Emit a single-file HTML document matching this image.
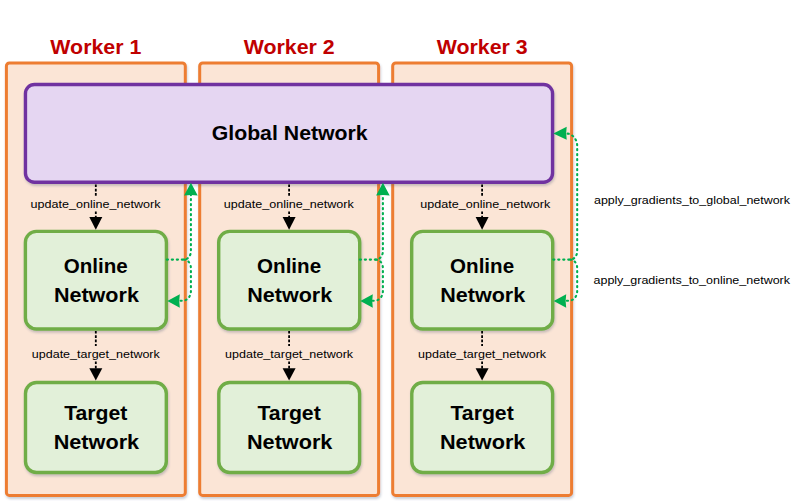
<!DOCTYPE html>
<html><head><meta charset="utf-8"><title>Workers</title>
<style>
html,body{margin:0;padding:0;background:#fff;width:797px;height:503px;overflow:hidden;}
svg{display:block;}
</style></head><body>
<svg width="797" height="503" viewBox="0 0 797 503">
<defs><filter id="sh" x="-5%" y="-5%" width="115%" height="115%"><feDropShadow dx="0.8" dy="2" stdDeviation="1.2" flood-color="#3a4a6a" flood-opacity="0.27"/></filter></defs>
<rect width="797" height="503" fill="#fff"/>
<rect x="6.4" y="62.9" width="178.9" height="432.5" rx="3" fill="#FBE5D6" stroke="#ED7D31" stroke-width="3" filter="url(#sh)"/>
<rect x="199.7" y="62.9" width="178.9" height="432.5" rx="3" fill="#FBE5D6" stroke="#ED7D31" stroke-width="3" filter="url(#sh)"/>
<rect x="392.7" y="62.9" width="178.9" height="432.5" rx="3" fill="#FBE5D6" stroke="#ED7D31" stroke-width="3" filter="url(#sh)"/>
<text x="95.85000000000001" y="54" text-anchor="middle" font-family='"Liberation Sans", sans-serif' font-weight="bold" font-size="21" fill="#C00000" textLength="91" lengthAdjust="spacingAndGlyphs">Worker 1</text>
<text x="289.15" y="54" text-anchor="middle" font-family='"Liberation Sans", sans-serif' font-weight="bold" font-size="21" fill="#C00000" textLength="91" lengthAdjust="spacingAndGlyphs">Worker 2</text>
<text x="482.15" y="54" text-anchor="middle" font-family='"Liberation Sans", sans-serif' font-weight="bold" font-size="21" fill="#C00000" textLength="91" lengthAdjust="spacingAndGlyphs">Worker 3</text>
<rect x="25.45" y="84.5" width="527.1" height="97.8" rx="9" fill="#E5D6F2" stroke="#7030A0" stroke-width="3.4" filter="url(#sh)"/>
<text x="289.7" y="139.8" text-anchor="middle" font-family='"Liberation Sans", sans-serif' font-weight="bold" font-size="20.5" fill="#000" textLength="156" lengthAdjust="spacingAndGlyphs">Global Network</text>
<rect x="25.4" y="231.4" width="141.0" height="97.6" rx="11" fill="#E2F0D9" stroke="#70AD47" stroke-width="3.4" filter="url(#sh)"/>
<text x="95.8" y="272.9" text-anchor="middle" font-family='"Liberation Sans", sans-serif' font-weight="bold" font-size="20.5" fill="#000" textLength="64" lengthAdjust="spacingAndGlyphs">Online</text>
<text x="96.39999999999999" y="301.8" text-anchor="middle" font-family='"Liberation Sans", sans-serif' font-weight="bold" font-size="20.5" fill="#000" textLength="85" lengthAdjust="spacingAndGlyphs">Network</text>
<rect x="25.5" y="382.5" width="140.8" height="90.0" rx="11" fill="#E2F0D9" stroke="#70AD47" stroke-width="3.4" filter="url(#sh)"/>
<text x="95.8" y="420" text-anchor="middle" font-family='"Liberation Sans", sans-serif' font-weight="bold" font-size="20.5" fill="#000" textLength="63.3" lengthAdjust="spacingAndGlyphs">Target</text>
<text x="96.39999999999999" y="448.6" text-anchor="middle" font-family='"Liberation Sans", sans-serif' font-weight="bold" font-size="20.5" fill="#000" textLength="85.5" lengthAdjust="spacingAndGlyphs">Network</text>
<text x="95.5" y="208" text-anchor="middle" font-family='"Liberation Sans", sans-serif' font-size="11.5" fill="#000" textLength="130" lengthAdjust="spacingAndGlyphs">update_online_network</text>
<text x="95.8" y="358" text-anchor="middle" font-family='"Liberation Sans", sans-serif' font-size="11.5" fill="#000" textLength="128" lengthAdjust="spacingAndGlyphs">update_target_network</text>
<path d="M95.8 184.5 V197 M95.8 211.5 V219" stroke="#000" stroke-width="1.8" stroke-dasharray="2.6 1.7"/>
<path d="M89.3 217 L102.3 217 L95.8 229.8 Z" fill="#000"/>
<path d="M95.8 331 V346 M95.8 361.5 V370" stroke="#000" stroke-width="1.8" stroke-dasharray="2.6 1.7"/>
<path d="M89.3 368.3 L102.3 368.3 L95.8 380.6 Z" fill="#000"/>
<rect x="218.7" y="231.4" width="141.0" height="97.6" rx="11" fill="#E2F0D9" stroke="#70AD47" stroke-width="3.4" filter="url(#sh)"/>
<text x="289.09999999999997" y="272.9" text-anchor="middle" font-family='"Liberation Sans", sans-serif' font-weight="bold" font-size="20.5" fill="#000" textLength="64" lengthAdjust="spacingAndGlyphs">Online</text>
<text x="289.7" y="301.8" text-anchor="middle" font-family='"Liberation Sans", sans-serif' font-weight="bold" font-size="20.5" fill="#000" textLength="85" lengthAdjust="spacingAndGlyphs">Network</text>
<rect x="218.79999999999998" y="382.5" width="140.8" height="90.0" rx="11" fill="#E2F0D9" stroke="#70AD47" stroke-width="3.4" filter="url(#sh)"/>
<text x="289.09999999999997" y="420" text-anchor="middle" font-family='"Liberation Sans", sans-serif' font-weight="bold" font-size="20.5" fill="#000" textLength="63.3" lengthAdjust="spacingAndGlyphs">Target</text>
<text x="289.7" y="448.6" text-anchor="middle" font-family='"Liberation Sans", sans-serif' font-weight="bold" font-size="20.5" fill="#000" textLength="85.5" lengthAdjust="spacingAndGlyphs">Network</text>
<text x="288.79999999999995" y="208" text-anchor="middle" font-family='"Liberation Sans", sans-serif' font-size="11.5" fill="#000" textLength="130" lengthAdjust="spacingAndGlyphs">update_online_network</text>
<text x="289.09999999999997" y="358" text-anchor="middle" font-family='"Liberation Sans", sans-serif' font-size="11.5" fill="#000" textLength="128" lengthAdjust="spacingAndGlyphs">update_target_network</text>
<path d="M289.09999999999997 184.5 V197 M289.09999999999997 211.5 V219" stroke="#000" stroke-width="1.8" stroke-dasharray="2.6 1.7"/>
<path d="M282.59999999999997 217 L295.59999999999997 217 L289.09999999999997 229.8 Z" fill="#000"/>
<path d="M289.09999999999997 331 V346 M289.09999999999997 361.5 V370" stroke="#000" stroke-width="1.8" stroke-dasharray="2.6 1.7"/>
<path d="M282.59999999999997 368.3 L295.59999999999997 368.3 L289.09999999999997 380.6 Z" fill="#000"/>
<rect x="411.7" y="231.4" width="141.0" height="97.6" rx="11" fill="#E2F0D9" stroke="#70AD47" stroke-width="3.4" filter="url(#sh)"/>
<text x="482.1" y="272.9" text-anchor="middle" font-family='"Liberation Sans", sans-serif' font-weight="bold" font-size="20.5" fill="#000" textLength="64" lengthAdjust="spacingAndGlyphs">Online</text>
<text x="482.70000000000005" y="301.8" text-anchor="middle" font-family='"Liberation Sans", sans-serif' font-weight="bold" font-size="20.5" fill="#000" textLength="85" lengthAdjust="spacingAndGlyphs">Network</text>
<rect x="411.8" y="382.5" width="140.8" height="90.0" rx="11" fill="#E2F0D9" stroke="#70AD47" stroke-width="3.4" filter="url(#sh)"/>
<text x="482.1" y="420" text-anchor="middle" font-family='"Liberation Sans", sans-serif' font-weight="bold" font-size="20.5" fill="#000" textLength="63.3" lengthAdjust="spacingAndGlyphs">Target</text>
<text x="482.70000000000005" y="448.6" text-anchor="middle" font-family='"Liberation Sans", sans-serif' font-weight="bold" font-size="20.5" fill="#000" textLength="85.5" lengthAdjust="spacingAndGlyphs">Network</text>
<text x="485.3" y="208" text-anchor="middle" font-family='"Liberation Sans", sans-serif' font-size="11.5" fill="#000" textLength="130" lengthAdjust="spacingAndGlyphs">update_online_network</text>
<text x="482.1" y="358" text-anchor="middle" font-family='"Liberation Sans", sans-serif' font-size="11.5" fill="#000" textLength="128" lengthAdjust="spacingAndGlyphs">update_target_network</text>
<path d="M482.1 184.5 V197 M482.1 211.5 V219" stroke="#000" stroke-width="1.8" stroke-dasharray="2.6 1.7"/>
<path d="M475.6 217 L488.6 217 L482.1 229.8 Z" fill="#000"/>
<path d="M482.1 331 V346 M482.1 361.5 V370" stroke="#000" stroke-width="1.8" stroke-dasharray="2.6 1.7"/>
<path d="M475.6 368.3 L488.6 368.3 L482.1 380.6 Z" fill="#000"/>
<path d="M166.8 259.6 H183.9 C187.9 259.6 190.9 255.60000000000002 190.9 251.10000000000002 V195" fill="none" stroke="#00B050" stroke-width="2.1" stroke-linecap="round" stroke-dasharray="1.2 3.8"/>
<path d="M183.9 259.6 C187.9 259.6 190.9 263.6 190.9 268.1 V291 C190.9 297 186.9 300.8 181.9 300.8 H178.5" fill="none" stroke="#00B050" stroke-width="2.1" stroke-linecap="round" stroke-dasharray="1.2 3.8"/>
<path d="M179.8 294.3 Q178.7 300.9 179.8 307.7 L167.3 300.9 Z" fill="#00B050"/>
<path d="M184.1 195.6 Q190.9 194.6 197.70000000000002 195.6 L190.9 182.8 Z" fill="#00B050"/>
<path d="M359.8 259.6 H375.9 C379.9 259.6 382.9 255.60000000000002 382.9 251.10000000000002 V195" fill="none" stroke="#00B050" stroke-width="2.1" stroke-linecap="round" stroke-dasharray="1.2 3.8"/>
<path d="M375.9 259.6 C379.9 259.6 382.9 263.6 382.9 268.1 V291 C382.9 297 378.9 300.8 373.9 300.8 H371.5" fill="none" stroke="#00B050" stroke-width="2.1" stroke-linecap="round" stroke-dasharray="1.2 3.8"/>
<path d="M372.8 294.3 Q371.7 300.9 372.8 307.7 L360.3 300.9 Z" fill="#00B050"/>
<path d="M376.09999999999997 195.6 Q382.9 194.6 389.7 195.6 L382.9 182.8 Z" fill="#00B050"/>
<path d="M553.2 259.6 H570.2 C574.2 259.6 577.2 255.60000000000002 577.2 251.10000000000002 V146 C577.2 139 572.2 133.5 566.2 133.5" fill="none" stroke="#00B050" stroke-width="2.1" stroke-linecap="round" stroke-dasharray="1.2 3.8"/>
<path d="M570.2 259.6 C574.2 259.6 577.2 263.6 577.2 268.1 V291 C577.2 297 573.2 300.8 568.2 300.8 H564.9" fill="none" stroke="#00B050" stroke-width="2.1" stroke-linecap="round" stroke-dasharray="1.2 3.8"/>
<path d="M566.2 294.3 Q565.0999999999999 300.9 566.2 307.7 L553.7 300.9 Z" fill="#00B050"/>
<path d="M566.7 126.8 Q565.6 133.4 566.7 139.8 L553.3 133.4 Z" fill="#00B050"/>
<text x="594" y="203.8" font-family='"Liberation Sans", sans-serif' font-size="11.5" fill="#000" textLength="196" lengthAdjust="spacingAndGlyphs">apply_gradients_to_global_network</text>
<text x="593.5" y="283.6" font-family='"Liberation Sans", sans-serif' font-size="11.5" fill="#000" textLength="196.5" lengthAdjust="spacingAndGlyphs">apply_gradients_to_online_network</text>
</svg>
</body></html>
